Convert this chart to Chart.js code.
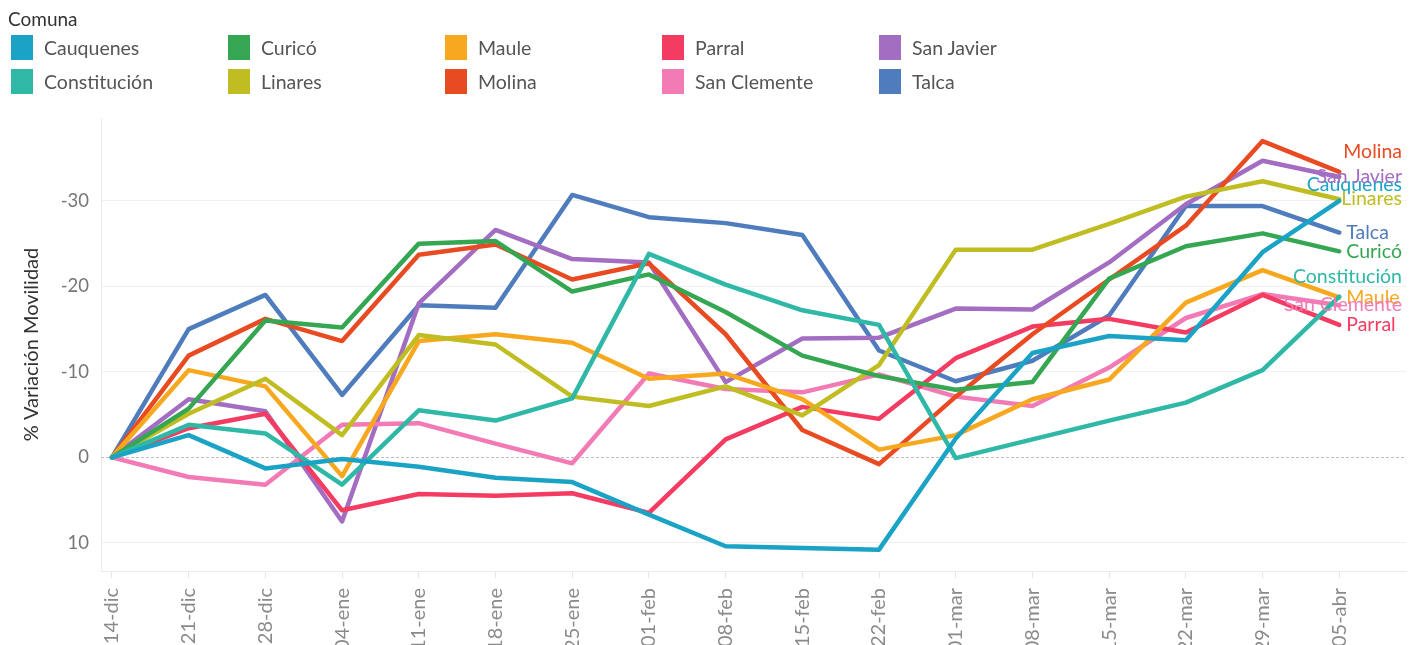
<!DOCTYPE html>
<html lang="es">
<head>
<meta charset="utf-8">
<title>% Variación Movilidad por Comuna</title>
<script src="https://cdn.jsdelivr.net/npm/chart.js@4.4.1/dist/chart.umd.min.js"></script>
<style>
  body { margin: 0; background: #fff; font-family: Lato, "Open Sans", sans-serif; }
  #wrap { position: relative; width: 1418px; height: 645px; overflow: hidden; }
  #chart { position: absolute; left: 0; top: 0; }
  #legend { position: absolute; left: 0; top: 0; }
  #legend .title { position: absolute; left: 8px; top: 7px; font-size: 19px; color: #333; white-space: nowrap; }
  #legend .items {
    position: absolute; left: 11px; top: 35px;
    display: grid; grid-auto-flow: column;
    grid-template-rows: 24px 24px; row-gap: 10px;
    grid-auto-columns: 217px;
  }
  #legend .item { display: flex; align-items: center; font-size: 19.5px; color: #555; white-space: nowrap; }
  #legend .sw { width: 22px; height: 25px; margin-right: 11px; flex: none; }
</style>
</head>
<body>
<div id="wrap">
  <canvas id="chart" width="1418" height="645"></canvas>
  <div id="legend">
    <div class="title">Comuna</div>
    <div class="items" id="legendItems"></div>
  </div>
</div>
<script>
// --- data ---
const weeks = ["14-dic", "21-dic", "28-dic", "04-ene", "11-ene", "18-ene", "25-ene", "01-feb",
  "08-feb", "15-feb", "22-feb", "01-mar", "08-mar", "15-mar", "22-mar", "29-mar", "05-abr"];
const yTicks = [-30, -20, -10, 0, 10];

const comunas = ["Cauquenes", "Constitución", "Curicó", "Linares", "Maule",
  "Molina", "Parral", "San Clemente", "San Javier", "Talca"];
const colors = ["#1ba3c6", "#2fb8a6", "#35a651", "#bfbd22", "#f7a81f",
  "#e84b22", "#f43b62", "#f27bb5", "#a36dc2", "#4e7cbd"];

const cauquenes   = [0, -2.6, 1.3, 0.2, 1.1, 2.4, 2.9, 6.7, 10.4, 10.6, 10.8, -2.2, -12.2, -14.2, -13.7, -24.0, -30.0];
const constitucion = [0, -3.8, -2.8, 3.2, -5.5, -4.3, -6.9, -23.8, -20.2, -17.2, -15.5, 0.1, -2.1, -4.3, -6.4, -10.2, -18.8];
const curico      = [0, -5.7, -16.0, -15.2, -25.0, -25.3, -19.4, -21.4, -17.0, -11.9, -9.5, -7.9, -8.8, -20.9, -24.7, -26.2, -24.1];
const linares     = [0, -5.1, -9.2, -2.6, -14.3, -13.2, -7.1, -6.0, -8.3, -4.9, -10.8, -24.3, -24.3, -27.3, -30.5, -32.3, -30.2];
const maule       = [0, -10.2, -8.3, 2.2, -13.6, -14.4, -13.4, -9.2, -9.8, -6.8, -0.9, -2.6, -6.8, -9.1, -18.1, -21.9, -18.7];
const molina      = [0, -11.9, -16.2, -13.6, -23.7, -24.9, -20.8, -22.7, -14.4, -3.2, 0.8, -7.1, -14.4, -20.8, -27.1, -37.0, -33.4];
const parral      = [0, -3.4, -5.1, 6.2, 4.3, 4.5, 4.2, 6.5, -2.1, -5.9, -4.5, -11.6, -15.3, -16.2, -14.6, -19.0, -15.5];
const sanClemente = [0, 2.3, 3.2, -3.8, -4.0, -1.6, 0.7, -9.8, -8.0, -7.6, -9.7, -7.1, -6.0, -10.5, -16.3, -19.1, -17.8];
const sanJavier   = [0, -6.8, -5.4, 7.5, -18.0, -26.6, -23.2, -22.8, -8.8, -13.9, -14.0, -17.4, -17.3, -22.8, -29.6, -34.7, -32.8];
const talca       = [0, -15.0, -19.0, -7.3, -17.8, -17.5, -30.7, -28.1, -27.4, -26.0, -12.5, -8.9, -11.3, -16.6, -29.4, -29.4, -26.3];

const series = [cauquenes, constitucion, curico, linares, maule, molina, parral, sanClemente, sanJavier, talca];

const FONT = "Lato, 'Open Sans', sans-serif";

// --- legend (html) ---
const legendItems = document.getElementById("legendItems");
comunas.forEach((name, i) => {
  const item = document.createElement("div");
  item.className = "item";
  item.innerHTML = `<span class="sw" style="background:${colors[i]}"></span>${name}`;
  legendItems.appendChild(item);
});

// dashed zero line, drawn under the lines
const zeroLine = {
  id: "zeroLine",
  beforeDatasetsDraw(chart) {
    const { ctx, chartArea } = chart;
    const y = Math.round(chart.scales.y.getPixelForValue(0)) + 0.5;
    ctx.save();
    ctx.strokeStyle = "#bdbdbd";
    ctx.lineWidth = 1;
    ctx.setLineDash([3, 2]);
    ctx.beginPath();
    ctx.moveTo(chartArea.left, y);
    ctx.lineTo(chartArea.right, y);
    ctx.stroke();
    ctx.restore();
  }
};

// labels at the end of each line, a few pushed up like Tableau does
const labelShift = { "Molina": -20, "Cauquenes": -16, "Constitución": -20 };
const endLabels = {
  id: "endLabels",
  afterDatasetsDraw(chart) {
    const ctx = chart.ctx;
    const right = chart.chartArea.right - 4;
    ctx.save();
    ctx.font = "19.5px " + FONT;
    ctx.textBaseline = "middle";
    ctx.textAlign = "left";
    chart.data.datasets.forEach((ds, i) => {
      const meta = chart.getDatasetMeta(i);
      const pt = meta.data[meta.data.length - 1];
      const w = ctx.measureText(ds.label).width;
      let x = pt.x + 7;
      if (x + w > right) x = right - w;
      ctx.fillStyle = ds.borderColor;
      ctx.fillText(ds.label, x, pt.y + (labelShift[ds.label] || 0));
    });
    ctx.restore();
  }
};

const datasets = comunas.map((name, i) => ({
  label: name,
  data: weeks.map((w, j) => ({ x: j, y: series[i][j] })),
  borderColor: colors[i],
  backgroundColor: colors[i],
  borderWidth: 4.5,
  pointRadius: 0,
  tension: 0,
  borderJoinStyle: "round",
  borderCapStyle: "round",
  fill: false
}));

new Chart(document.getElementById("chart"), {
  type: "line",
  data: { datasets },
  options: {
    responsive: false,
    animation: false,
    devicePixelRatio: 1,
    layout: { padding: { left: 10, right: 12, top: 118, bottom: 0 } },
    plugins: { legend: { display: false }, tooltip: { enabled: false } },
    scales: {
      x: {
        type: "linear",
        min: -0.143,
        max: 16.87,
        afterBuildTicks: (axis) => { axis.ticks = weeks.map((w, i) => ({ value: i })); },
        afterFit: (axis) => { axis.height = 74; },
        ticks: {
          callback: (v) => weeks[v],
          autoSkip: false,
          minRotation: 90,
          maxRotation: 90,
          padding: 10,
          color: "#8a8a8a",
          font: { family: FONT, size: 20 }
        },
        grid: { drawOnChartArea: false, drawTicks: true, tickLength: 7, color: "#e6e6e6" },
        border: { display: true, color: "#ebebeb" }
      },
      y: {
        type: "linear",
        reverse: true,
        min: -39.7,
        max: 13.3,
        afterBuildTicks: (axis) => { axis.ticks = yTicks.map((v) => ({ value: v })); },
        afterFit: (axis) => { axis.width = 91; },
        ticks: { padding: 12, color: "#777", font: { family: FONT, size: 18.5 } },
        grid: {
          drawTicks: false,
          color: (c) => (c.tick && c.tick.value === 0 ? "rgba(0,0,0,0)" : "#f0f0f0"),
          lineWidth: 1
        },
        border: { display: true, color: "#ebebeb" },
        title: {
          display: true,
          text: "% Variación Movilidad",
          color: "#333",
          font: { family: FONT, size: 20 },
          padding: { top: 10, bottom: 0 }
        }
      }
    }
  },
  plugins: [zeroLine, endLabels]
});
</script>
</body>
</html>
